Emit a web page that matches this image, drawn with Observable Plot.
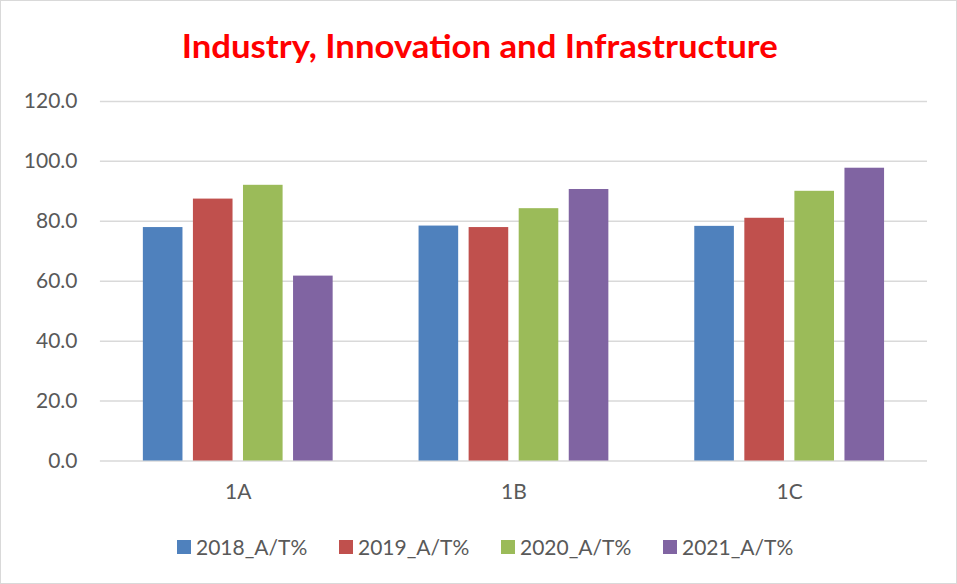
<!DOCTYPE html>
<html>
<head>
<meta charset="utf-8">
<script src="https://cdn.jsdelivr.net/npm/d3@7"></script>
<script src="https://cdn.jsdelivr.net/npm/@observablehq/plot@0.6"></script>
<style>
  html, body { margin: 0; padding: 0; background: #fff; }
  #chart { position: relative; width: 957px; height: 584px; box-sizing: border-box; border: 1px solid #d9d9d9; background: #fff; font-family: Lato, "Open Sans", sans-serif; overflow: hidden; }
  #title { position: absolute; left: 0; top: 29px; width: 957px; text-align: center; line-height: 1; white-space: nowrap; }
  #title span { display: inline-block; color: #ff0000; font-weight: bold; font-size: 32px; transform-origin: center; }
  #plot { position: absolute; left: -1px; top: -1px; }
  #legend { position: absolute; left: 176px; top: 533px; display: flex; }
  .item { width: 162px; display: flex; align-items: center; font-size: 21px; color: #595959; line-height: 26px; }
  .sw { width: 14px; height: 14px; margin-right: 5px; flex: none; }
</style>
</head>
<body>
<div id="chart">
  <div id="plot"></div>
  <div id="title"><span id="titletext">Industry, Innovation and Infrastructure</span></div>
  <div id="legend"></div>
</div>
<script>
const categories = ["1A", "1B", "1C"];
const series = ["2018_A/T%", "2019_A/T%", "2020_A/T%", "2021_A/T%"];
const v2018 = [77.9, 78.4, 78.3];
const v2019 = [87.4, 77.9, 81.0];
const v2020 = [92.0, 84.2, 90.0];
const v2021 = [61.7, 90.6, 97.7];
const yTicks = [0, 20, 40, 60, 80, 100, 120];
const colors = ["#4F81BD", "#C0504D", "#9BBB59", "#8064A2"];

const seriesValues = [v2018, v2019, v2020, v2021];

const W = 957, H = 510, ML = 100, MR = 29, MT = 101, MB = 49;
const padInner = 0.31, padOuter = 0.155;
const bandW = (W - ML - MR) / categories.length * (1 - padInner);
const subStep = bandW / (series.length - 0.2);
const barW = subStep * 0.8;

const barMarks = seriesValues.map((vals, i) =>
  Plot.barY(categories.map((c, j) => ({cat: c, series: series[i], value: vals[j]})), {
    x: "cat",
    y: "value",
    fill: colors[i],
    insetLeft: i * subStep,
    insetRight: bandW - i * subStep - barW
  })
);

const chart = Plot.plot({
  width: W,
  height: H,
  marginLeft: ML,
  marginRight: MR,
  marginTop: MT,
  marginBottom: MB,
  style: { fontFamily: "Lato, 'Open Sans', sans-serif", fontSize: "21px", color: "#595959", background: "transparent" },
  x: { domain: categories, paddingInner: padInner, paddingOuter: padOuter, label: null, tickSize: 0, tickPadding: 23 },
  y: { domain: [0, 120], ticks: yTicks, tickFormat: d => d.toFixed(1), label: null, tickSize: 0, tickPadding: 23 },
  marks: [
    Plot.ruleY(yTicks, { stroke: "#d9d9d9", strokeWidth: 1.5 }),
    ...barMarks
  ]
});
document.getElementById("plot").appendChild(chart);

// legend
const legend = d3.select("#legend");
series.forEach((s, i) => {
  const item = legend.append("div").attr("class", "item");
  item.append("div").attr("class", "sw").style("background", colors[i]);
  item.append("span").text(s);
});

// fit title width
const t = document.getElementById("titletext");
const w = t.getBoundingClientRect().width;
t.style.transform = `scaleX(${596 / w})`;
</script>
</body>
</html>
